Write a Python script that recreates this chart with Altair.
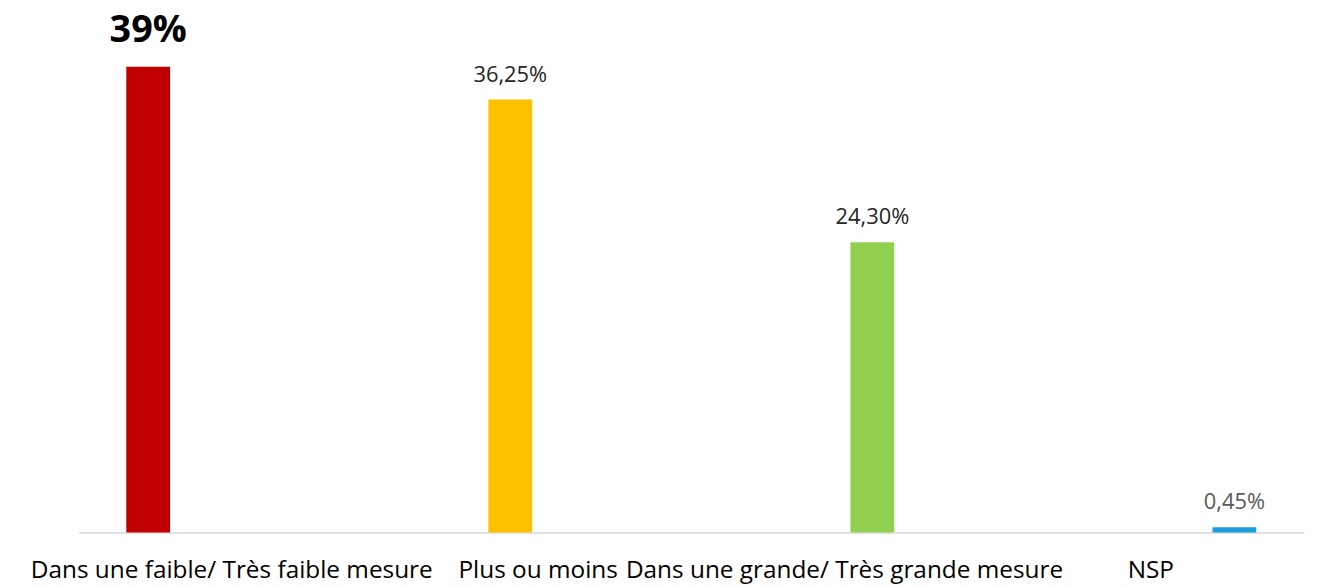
import altair as alt
import pandas as pd

categories = ["Dans une faible/ Très faible mesure", "Plus ou moins",
              "Dans une grande/ Très grande mesure", "NSP"]
values = [39.0, 36.25, 24.30, 0.45]
value_labels = ["39%", "36,25%", "24,30%", "0,45%"]
bar_colors = ["#C00000", "#FFC000", "#92D050", "#1A9FDB"]
label_colors = ["#000000", "#262626", "#262626", "#595959"]

df = pd.DataFrame({
    "cat": categories,
    "value": values,
    "label": value_labels,
    "lcolor": label_colors,
    "idx": list(range(len(categories))),
})

FONT = "Open Sans"

x = alt.X("cat:N", sort=categories,
          scale=alt.Scale(paddingInner=0, paddingOuter=0),
          axis=alt.Axis(title=None, labelAngle=0, labelLimit=0, labelOverlap=False,
                        ticks=False, domainColor="#D9D9D9", domainWidth=1.5,
                        labelFont=FONT, labelFontSize=24.5, labelColor="#000000",
                        labelPadding=38, labelBaseline="middle", grid=False))
xo = alt.XOffset("cat:N", sort=categories,
                 scale=alt.Scale(paddingInner=0.214, paddingOuter=0.857))
y = alt.Y("value:Q", scale=alt.Scale(domain=[0, 42.6]), axis=None)

base = alt.Chart(df)

bars = base.mark_bar().encode(
    x=x, xOffset=xo, y=y,
    color=alt.Color("cat:N", sort=categories,
                    scale=alt.Scale(domain=categories, range=bar_colors), legend=None),
)

big = base.transform_filter("datum.idx == 0").mark_text(
    font=FONT, fontSize=38, fontWeight="bold", dy=-36, baseline="middle", color="#000000"
).encode(x=x, xOffset=xo, y=y, text="label:N")

small = base.transform_filter("datum.idx > 0").mark_text(
    font=FONT, fontSize=22, dy=-25, baseline="middle"
).encode(x=x, xOffset=xo, y=y, text="label:N",
         color=alt.Color("lcolor:N", scale=None))

chart = alt.layer(bars, big, small).properties(
    width=1233, height=512,
    padding={"left": 71, "top": 14, "right": 5, "bottom": 50},
    autosize=alt.AutoSizeParams(type="none"),
).configure_view(stroke=None)

chart.save("out.html", embed_options={"renderer": "svg", "actions": False})
